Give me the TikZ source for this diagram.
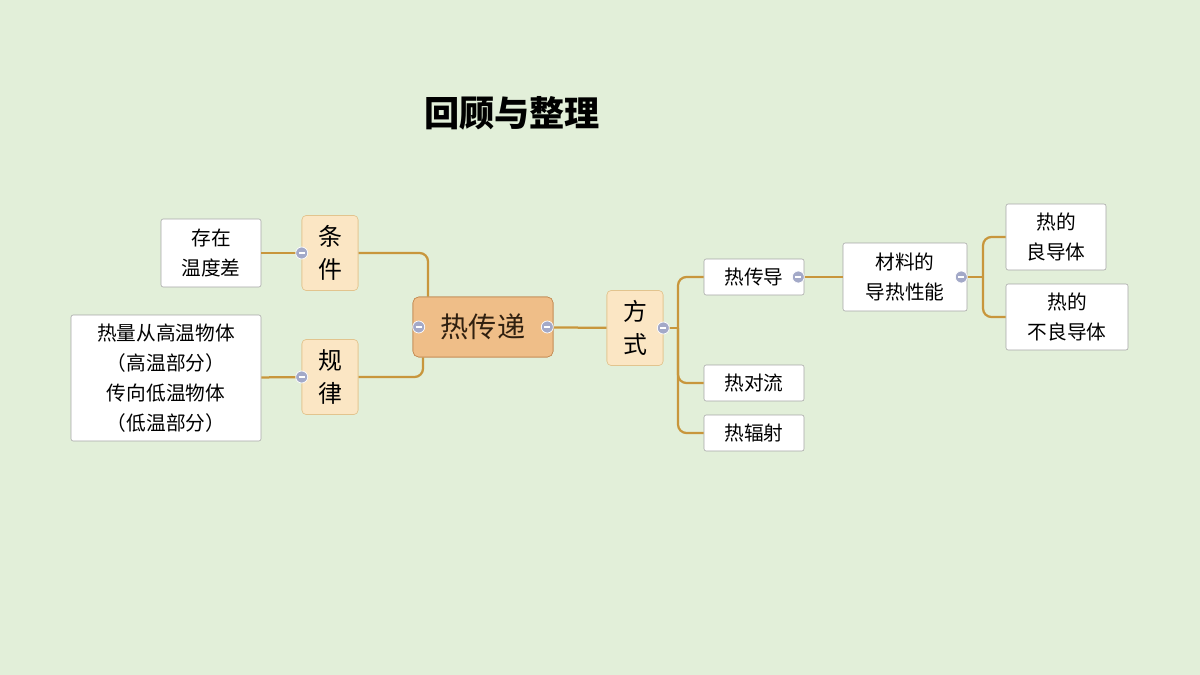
\documentclass[tikz,border=0pt]{standalone}
\usepackage{fontspec}
\setmainfont{Noto Sans CJK SC}
\usetikzlibrary{positioning}
\definecolor{bgc}{HTML}{E2EFD9}
\definecolor{linec}{HTML}{C8963C}
\definecolor{rootf}{HTML}{EFBE88}
\definecolor{rootd}{HTML}{C08850}
\definecolor{subf}{HTML}{FBE6C4}
\definecolor{subd}{HTML}{E2C48E}
\definecolor{knob}{HTML}{A3A9C8}
\tikzset{
	root/.style={draw=rootd, fill=rootf, rounded corners=4pt, minimum width=140*0.025cm, minimum height=60*0.025cm, font=\fontsize{20}{22}\selectfont, text=black!75!brown},
	sub/.style={draw=subd, fill=subf, rounded corners=3pt, minimum width=56*0.025cm, minimum height=75*0.025cm, align=center, font=\fontsize{17}{23}\selectfont},
	leaf/.style={draw=black!35, fill=white, rounded corners=1.5pt, align=center, font=\fontsize{14}{21.5}\selectfont, inner sep=2pt},
	link/.style={draw=linec, line width=1.6pt, rounded corners=6pt},
	knob/.style={circle, fill=knob, draw=white, line width=0.5pt, minimum size=12*0.025cm, inner sep=0pt, path picture={\draw[white, line width=0.9pt] ([xshift=-2.2pt]path picture bounding box.center) -- ([xshift=2.2pt]path picture bounding box.center);}}
}
\begin{document}
\begin{tikzpicture}[x=0.025cm, y=-0.025cm]

	\fill[bgc] (0,0) rectangle (1200,675);
	\useasboundingbox (0,0) rectangle (1200,675);

	\node[font=\fontsize{25}{28}\selectfont\bfseries] (title) at (512,113) {回顾与整理};

	% centre and the two left branches
	\node[root] (heat) at (483,327) {热传递};
	\node[sub] (cond) at (330,253) {条\\件};
	\node[sub] (rule) at (330,377) {规\\律};
	\node[leaf, minimum width=100*0.025cm, minimum height=68*0.025cm] (diff) at (211,253) {存在\\温度差};
	\node[leaf, minimum width=190*0.025cm, minimum height=126*0.025cm] (flow) at (166,378) {热量从高温物体\\（高温部分）\\传向低温物体\\（低温部分）};

	% right branches
	\node[sub] (way) at (635,328) {方\\式};
	\node[leaf, minimum width=100*0.025cm, minimum height=36*0.025cm] (cond2) at (754,277) {热传导};
	\node[leaf, minimum width=100*0.025cm, minimum height=36*0.025cm] (conv) at (754,383) {热对流};
	\node[leaf, minimum width=100*0.025cm, minimum height=36*0.025cm] (rad) at (754,433) {热辐射};
	\node[leaf, minimum width=124*0.025cm, minimum height=68*0.025cm] (mat) at (905,277) {材料的\\导热性能};
	\node[leaf, minimum width=100*0.025cm, minimum height=66*0.025cm] (good) at (1056,237) {热的\\良导体};
	\node[leaf, minimum width=122*0.025cm, minimum height=66*0.025cm] (bad) at (1067,317) {热的\\不良导体};

	\coordinate (jr) at (678,328);
	\coordinate (jm) at (983,277);

	\draw[link] (cond.east) -| ([xshift=-55*0.025cm]heat.north);
	\draw[link] (rule.east) -| ([xshift=-60*0.025cm]heat.south);
	\draw[link] (diff) -- (cond);
	\draw[link] (flow) -- (rule);
	\draw[link] (heat) -- (way);
	\draw[link] (way.east) -- (jr);
	\draw[link] (jr) |- (cond2.west);
	\draw[link] (jr) |- (conv.west);
	\draw[link] (jr) |- (rad.west);
	\draw[link] (cond2) -- (mat);
	\draw[link] (mat.east) -- (jm);
	\draw[link] (jm) |- (good.west);
	\draw[link] (jm) |- (bad.west);

	% redraw boxes over the connectors
	\node[root] at (heat) {热传递};
	\node[sub] at (cond) {条\\件};
	\node[sub] at (rule) {规\\律};
	\node[sub] at (way) {方\\式};

	% collapse knobs
	\node[knob] (k1) at ([xshift=6*0.025cm]heat.west) {};
	\node[knob] (k2) at ([xshift=-6*0.025cm]heat.east) {};
	\node[knob] (k3) at (cond.west) {};
	\node[knob] (k4) at (rule.west) {};
	\node[knob] (k5) at (way.east) {};
	\node[knob] (k6) at ([xshift=-6*0.025cm]cond2.east) {};
	\node[knob] (k7) at ([xshift=-6*0.025cm]mat.east) {};

\end{tikzpicture}
\end{document}
